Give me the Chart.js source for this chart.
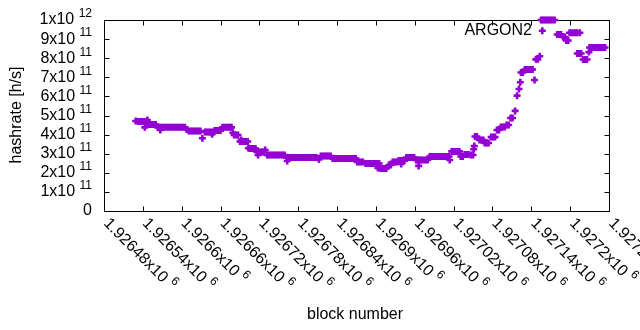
<!DOCTYPE html>
<html>
<head>
<meta charset="utf-8">
<title>ARGON2 hashrate</title>
<script src="https://cdn.jsdelivr.net/npm/chart.js@4/dist/chart.umd.min.js"></script>
<style>
  body { margin: 0; background: #fff; }
  #chart { display: block; }
</style>
</head>
<body>
<canvas id="chart" width="640" height="330"></canvas>
<script>
'use strict'

// block number / hashrate (h/s)
const blocks = [
  1926529, 1926533, 1926536, 1926539, 1926542, 1926543, 1926545, 1926547, 1926548, 1926551,
  1926554, 1926557, 1926560, 1926563, 1926566, 1926567, 1926569, 1926572, 1926575, 1926578,
  1926581, 1926584, 1926587, 1926590, 1926593, 1926596, 1926599, 1926602, 1926605, 1926608,
  1926611, 1926614, 1926617, 1926620, 1926623, 1926626, 1926629, 1926632, 1926636, 1926639,
  1926642, 1926645, 1926647, 1926648, 1926651, 1926654, 1926657, 1926660, 1926663, 1926666,
  1926669, 1926672, 1926675, 1926677, 1926679, 1926681, 1926684, 1926687, 1926690, 1926692,
  1926693, 1926696, 1926699, 1926702, 1926703, 1926705, 1926708, 1926711, 1926714, 1926716,
  1926717, 1926718, 1926720, 1926723, 1926726, 1926729, 1926732, 1926735, 1926738, 1926741,
  1926744, 1926747, 1926750, 1926753, 1926756, 1926759, 1926762, 1926763, 1926766, 1926769,
  1926772, 1926775, 1926778, 1926781, 1926784, 1926787, 1926790, 1926793, 1926796, 1926799,
  1926802, 1926805, 1926808, 1926812, 1926815, 1926818, 1926821, 1926824, 1926827, 1926830,
  1926833, 1926836, 1926839, 1926842, 1926845, 1926848, 1926851, 1926854, 1926857, 1926860,
  1926863, 1926866, 1926869, 1926871, 1926874, 1926877, 1926880, 1926884, 1926887, 1926890,
  1926893, 1926896, 1926899, 1926902, 1926903, 1926905, 1926907, 1926910, 1926913, 1926916,
  1926920, 1926923, 1926926, 1926929, 1926932, 1926935, 1926938, 1926939, 1926941, 1926944,
  1926947, 1926950, 1926953, 1926956, 1926959, 1926962, 1926965, 1926966, 1926968, 1926971,
  1926974, 1926977, 1926980, 1926983, 1926986, 1926989, 1926992, 1926995, 1926998, 1927001,
  1927004, 1927007, 1927010, 1927013, 1927014, 1927017, 1927020, 1927023, 1927026, 1927029,
  1927031, 1927034, 1927037, 1927040, 1927043, 1927047, 1927050, 1927051, 1927052, 1927053,
  1927056, 1927060, 1927063, 1927066, 1927068, 1927071, 1927074, 1927078, 1927081, 1927084,
  1927087, 1927090, 1927093, 1927096, 1927099, 1927102, 1927105, 1927108, 1927111, 1927115,
  1927118, 1927121, 1927123, 1927124, 1927127, 1927130, 1927133, 1927136, 1927139, 1927142,
  1927145, 1927147, 1927150, 1927153, 1927155, 1927157, 1927158, 1927161, 1927164, 1927167,
  1927170, 1927173, 1927176, 1927180, 1927183, 1927186, 1927189, 1927192, 1927194, 1927197,
  1927199, 1927202, 1927205, 1927208, 1927211, 1927211, 1927214, 1927215, 1927217, 1927220,
  1927223, 1927226, 1927229, 1927230, 1927233, 1927236, 1927239, 1927242, 1927245, 1927248,
  1927251, 1927254
];
const hashrate = [
  4.71e11, 4.69e11, 4.69e11, 4.69e11, 4.69e11, 4.38e11, 4.69e11, 4.76e11, 4.53e11, 4.53e11,
  4.53e11, 4.53e11, 4.53e11, 4.38e11, 4.38e11, 4.24e11, 4.38e11, 4.38e11, 4.38e11, 4.38e11,
  4.38e11, 4.38e11, 4.38e11, 4.38e11, 4.38e11, 4.38e11, 4.38e11, 4.38e11, 4.38e11, 4.27e11,
  4.19e11, 4.19e11, 4.19e11, 4.19e11, 4.19e11, 4.19e11, 4.19e11, 3.81e11, 4.14e11, 4.14e11,
  4.14e11, 4.14e11, 4.02e11, 4.14e11, 4.21e11, 4.21e11, 4.21e11, 4.21e11, 4.38e11, 4.38e11,
  4.38e11, 4.38e11, 4.38e11, 4.38e11, 4.10e11, 3.98e11, 3.98e11, 3.98e11, 3.64e11, 3.72e11,
  3.64e11, 3.64e11, 3.64e11, 3.64e11, 3.30e11, 3.27e11, 3.27e11, 3.27e11, 3.27e11, 3.10e11,
  3.09e11, 2.93e11, 3.09e11, 3.09e11, 3.09e11, 3.19e11, 2.93e11, 2.93e11, 2.93e11, 2.93e11,
  2.93e11, 2.93e11, 2.93e11, 2.93e11, 2.93e11, 2.93e11, 2.80e11, 2.62e11, 2.80e11, 2.80e11,
  2.80e11, 2.80e11, 2.80e11, 2.80e11, 2.80e11, 2.80e11, 2.80e11, 2.80e11, 2.80e11, 2.80e11,
  2.80e11, 2.80e11, 2.80e11, 2.70e11, 2.88e11, 2.88e11, 2.88e11, 2.88e11, 2.88e11, 2.88e11,
  2.75e11, 2.75e11, 2.75e11, 2.75e11, 2.75e11, 2.75e11, 2.75e11, 2.75e11, 2.75e11, 2.75e11,
  2.75e11, 2.75e11, 2.75e11, 2.57e11, 2.57e11, 2.57e11, 2.57e11, 2.49e11, 2.49e11, 2.49e11,
  2.49e11, 2.49e11, 2.49e11, 2.49e11, 2.25e11, 2.49e11, 2.23e11, 2.23e11, 2.23e11, 2.23e11,
  2.41e11, 2.41e11, 2.57e11, 2.57e11, 2.57e11, 2.64e11, 2.64e11, 2.46e11, 2.64e11, 2.64e11,
  2.80e11, 2.80e11, 2.80e11, 2.80e11, 2.80e11, 2.67e11, 2.67e11, 2.36e11, 2.67e11, 2.67e11,
  2.67e11, 2.67e11, 2.67e11, 2.85e11, 2.85e11, 2.85e11, 2.85e11, 2.85e11, 2.85e11, 2.85e11,
  2.85e11, 2.85e11, 2.85e11, 2.85e11, 2.67e11, 3.12e11, 3.12e11, 3.12e11, 3.12e11, 3.12e11,
  2.85e11, 2.85e11, 2.96e11, 2.96e11, 2.96e11, 2.93e11, 2.93e11, 3.23e11, 3.40e11, 3.90e11,
  3.90e11, 3.72e11, 3.72e11, 3.72e11, 3.56e11, 3.56e11, 3.56e11, 3.87e11, 3.87e11, 3.87e11,
  4.24e11, 4.24e11, 4.40e11, 4.40e11, 4.40e11, 4.50e11, 4.50e11, 4.87e11, 4.87e11, 5.24e11,
  6.04e11, 6.39e11, 6.74e11, 7.25e11, 7.25e11, 7.41e11, 7.41e11, 7.41e11, 7.41e11, 7.41e11,
  6.86e11, 7.94e11, 7.94e11, 8.10e11, 1.00e12, 9.44e11, 1.00e12, 1.00e12, 1.00e12, 1.00e12,
  1.00e12, 1.00e12, 1.00e12, 9.24e11, 9.24e11, 9.24e11, 9.11e11, 9.11e11, 8.93e11, 8.93e11,
  9.33e11, 9.33e11, 9.33e11, 9.33e11, 9.33e11, 8.25e11, 8.25e11, 9.33e11, 8.25e11, 7.93e11,
  7.93e11, 7.93e11, 8.32e11, 8.56e11, 8.56e11, 8.56e11, 8.56e11, 8.56e11, 8.56e11, 8.56e11,
  8.56e11, 8.56e11
];

// ticks ("^" marks the exponent)
const xTicks = [1926480, 1926540, 1926600, 1926660, 1926720, 1926780, 1926840,
                1926900, 1926960, 1927020, 1927080, 1927140, 1927200, 1927260];
const xTickLabels = ['1.92648x10^6', '1.92654x10^6', '1.9266x10^6', '1.92666x10^6',
                     '1.92672x10^6', '1.92678x10^6', '1.92684x10^6', '1.9269x10^6',
                     '1.92696x10^6', '1.92702x10^6', '1.92708x10^6', '1.92714x10^6',
                     '1.9272x10^6', '1.92726x10^6'];
const yTicks = [0, 1e11, 2e11, 3e11, 4e11, 5e11, 6e11, 7e11, 8e11, 9e11, 1e12];
const yTickLabels = ['0', '1x10^11', '2x10^11', '3x10^11', '4x10^11', '5x10^11',
                     '6x10^11', '7x10^11', '8x10^11', '9x10^11', '1x10^12'];

const FONT = '"Liberation Sans", Arial, sans-serif';
const FS = 16, FS_SUP = 12;

function labelWidth(c, text){
    var p = text.split('^');
    c.font = FS + 'px ' + FONT;
    var w = c.measureText(p[0]).width;
    if (p.length > 1) {
        w += c.measureText(' ').width;
        c.font = FS_SUP + 'px ' + FONT;
        w += c.measureText(p[1]).width;
    }
    return w;
}

// draws "base^exp" starting at x (left), middle at y
function drawLabel(c, text, x, y){
    var p = text.split('^');
    c.textAlign = 'left';
    c.textBaseline = 'middle';
    c.font = FS + 'px ' + FONT;
    c.fillText(p[0], x, y);
    if (p.length > 1) {
        var w = c.measureText(p[0]).width + c.measureText(' ').width;
        c.font = FS_SUP + 'px ' + FONT;
        c.fillText(p[1], x + w, y - 6);
    }
}

const gnuplotFrame = {
    id: 'gnuplotFrame',
    beforeDatasetsDraw(chart){
        const c = chart.ctx, a = chart.chartArea;
        const sx = chart.scales.x, sy = chart.scales.y;
        c.save();
        c.strokeStyle = '#000';
        c.lineWidth = 1;
        c.beginPath();
        c.rect(a.left + 0.5, a.top + 0.5, a.right - a.left, a.bottom - a.top);
        xTicks.forEach(function(v){
            var px = Math.round(sx.getPixelForValue(v)) + 0.5;
            c.moveTo(px, a.bottom + 0.5); c.lineTo(px, a.bottom - 4.5);
            c.moveTo(px, a.top + 0.5); c.lineTo(px, a.top + 5.5);
        });
        yTicks.forEach(function(v){
            var py = Math.round(sy.getPixelForValue(v)) + 0.5;
            c.moveTo(a.left + 0.5, py); c.lineTo(a.left + 5.5, py);
            c.moveTo(a.right + 0.5, py); c.lineTo(a.right - 4.5, py);
        });
        c.stroke();
        c.restore();
    },
    afterDraw(chart){
        const c = chart.ctx, a = chart.chartArea;
        const sx = chart.scales.x, sy = chart.scales.y;
        c.save();
        c.fillStyle = '#000';

        // y tick labels, right aligned
        yTicks.forEach(function(v, i){
            var py = sy.getPixelForValue(v);
            var w = labelWidth(c, yTickLabels[i]);
            drawLabel(c, yTickLabels[i], 92 - w, py);
        });

        // x tick labels, rotated 45 deg downwards
        xTicks.forEach(function(v, i){
            var px = sx.getPixelForValue(v);
            c.save();
            c.translate(px + 2, a.bottom + 10);
            c.rotate(Math.PI / 4);
            drawLabel(c, xTickLabels[i], 0, 0);
            c.restore();
        });

        // axis titles
        c.font = FS + 'px ' + FONT;
        c.textAlign = 'center';
        c.textBaseline = 'middle';
        c.fillText('block number', 355, 315);
        c.save();
        c.translate(17, 115);
        c.rotate(-Math.PI / 2);
        c.fillText('hashrate [h/s]', 0, 0);
        c.restore();

        // key
        c.textAlign = 'right';
        c.fillText(chart.data.datasets[0].label, 532, 31);
        c.restore();
    }
};

const points = blocks.map(function(b, i){ return {x: b, y: hashrate[i]}; });

const chartH = new Chart(document.getElementById('chart').getContext('2d'), {
    type: 'scatter',
    data: {
        datasets: [{
            label: 'ARGON2',
            data: points,
            pointStyle: 'cross',
            pointRadius: 3.5,
            pointHoverRadius: 3.5,
            pointBorderWidth: 2.6,
            borderColor: '#9400d3',
            backgroundColor: '#9400d3',
            showLine: false,
            clip: false
        }]
    },
    options: {
        responsive: false,
        animation: false,
        devicePixelRatio: 1,
        layout: { padding: { top: 20, right: 31, left: 0, bottom: 0 } },
        plugins: { legend: { display: false }, tooltip: { enabled: false } },
        scales: {
            x: {
                type: 'linear',
                min: 1926480,
                max: 1927260,
                ticks: { display: false },
                grid: { display: false, drawTicks: false },
                border: { display: false },
                afterFit: function(s){ s.height = 119; }
            },
            y: {
                type: 'linear',
                min: 0,
                max: 1e12,
                ticks: { display: false },
                grid: { display: false, drawTicks: false },
                border: { display: false },
                afterFit: function(s){ s.width = 104; }
            }
        }
    },
    plugins: [gnuplotFrame]
});
</script>
</body>
</html>
